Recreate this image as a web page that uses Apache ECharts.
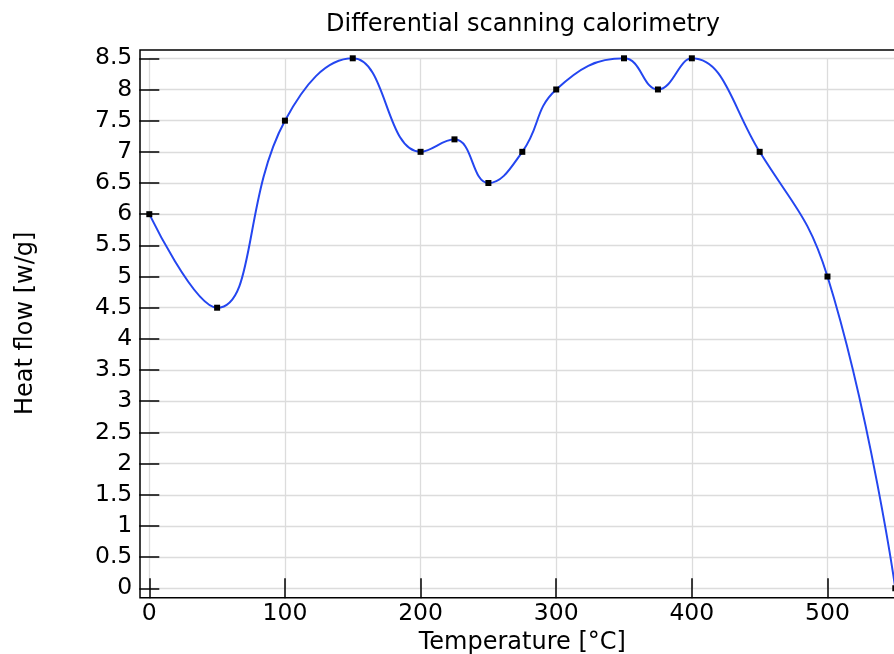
<!DOCTYPE html>
<html><head><meta charset="utf-8">
<script src="https://cdn.jsdelivr.net/npm/echarts@6/dist/echarts.min.js"></script>
<style>html,body{margin:0;padding:0;background:#fff}#c{width:894px;height:654px}</style>
</head><body><div id="c"></div>
<script>
const temperature = [0, 50, 100, 150, 200, 225, 250, 275, 300, 350, 375, 400, 450, 500, 550];
const heatFlow = [6, 4.5, 7.5, 8.5, 7, 7.2, 6.5, 7, 8, 8.5, 8, 8.5, 7, 5, 0];
const xRange = [0, 550];
const xStep = 100;
const yRange = [0, 8.5];
const yStep = 0.5;
const frameX = [-6.875, 556.875];
const frameY = [-0.15, 8.633];

const FONT = 'DejaVu Sans';
const chart = echarts.init(document.getElementById('c'), null, {renderer: 'canvas'});

const tickAxis = (pos, offset) => ({
  type: 'value', gridIndex: 0, position: pos, offset: offset,
  axisLine: {show: false}, axisLabel: {show: false}, splitLine: {show: false},
  axisTick: {show: true, inside: true, length: 10, lineStyle: {color: '#000', width: 1.5}}
});

const xTickAxis = (pos, offset) => Object.assign(tickAxis(pos, offset), {min: xRange[0], max: xRange[1], interval: xStep});
const yTickAxis = (pos, offset) => Object.assign(tickAxis(pos, offset), {min: yRange[0], max: yRange[1], interval: yStep});

chart.setOption({
  animation: false,
  backgroundColor: '#fff',
  title: {
    text: 'Differential scanning calorimetry', left: 518, top: 8, textAlign: 'center',
    textStyle: {fontFamily: FONT, fontSize: 24, fontWeight: 'normal', color: '#000'}
  },
  grid: [
    {left: 149.3, right: -1.3, top: 58.3, bottom: 65.7, containLabel: false, outerBoundsMode: 'none'},
    {left: 140, right: -10.6, top: 50, bottom: 56.3, show: true, borderColor: '#000', borderWidth: 1.5,
     backgroundColor: 'transparent', containLabel: false, outerBoundsMode: 'none'}
  ],
  xAxis: [
    {
      type: 'value', gridIndex: 0, min: xRange[0], max: xRange[1], interval: xStep,
      name: 'Temperature [°C]', nameLocation: 'middle', nameGap: 40,
      nameTextStyle: {fontFamily: FONT, fontSize: 24, color: '#000'},
      axisLine: {show: false}, axisTick: {show: false},
      axisLabel: {fontFamily: FONT, fontSize: 23.5, color: '#000', margin: 14, showMaxLabel: false},
      splitLine: {show: true, lineStyle: {color: '#dcdcdc', width: 1.3}}
    },
    xTickAxis('bottom', 9.4),
    xTickAxis('top', 8.3),
    {type: 'value', gridIndex: 1, min: frameX[0], max: frameX[1], show: false}
  ],
  yAxis: [
    {
      type: 'value', gridIndex: 0, min: yRange[0], max: yRange[1], interval: yStep,
      name: 'Heat flow [w/g]', nameLocation: 'middle', nameGap: 112,
      nameTextStyle: {fontFamily: FONT, fontSize: 24, color: '#000'},
      axisLine: {show: false}, axisTick: {show: false},
      axisLabel: {fontFamily: FONT, fontSize: 23.5, color: '#000', margin: 17},
      splitLine: {show: true, lineStyle: {color: '#dcdcdc', width: 1.3}}
    },
    yTickAxis('left', 9.3),
    yTickAxis('right', 9.3),
    {type: 'value', gridIndex: 1, min: frameY[0], max: frameY[1], show: false}
  ],
  series: [{
    type: 'line', xAxisIndex: 0, yAxisIndex: 0,
    data: temperature.map((t, i) => [t, heatFlow[i]]),
    smooth: 0.45,
    symbol: 'rect', symbolSize: 6,
    itemStyle: {color: '#000'},
    lineStyle: {color: '#2446f0', width: 2},
    z: 5
  }]
});
</script></body></html>
